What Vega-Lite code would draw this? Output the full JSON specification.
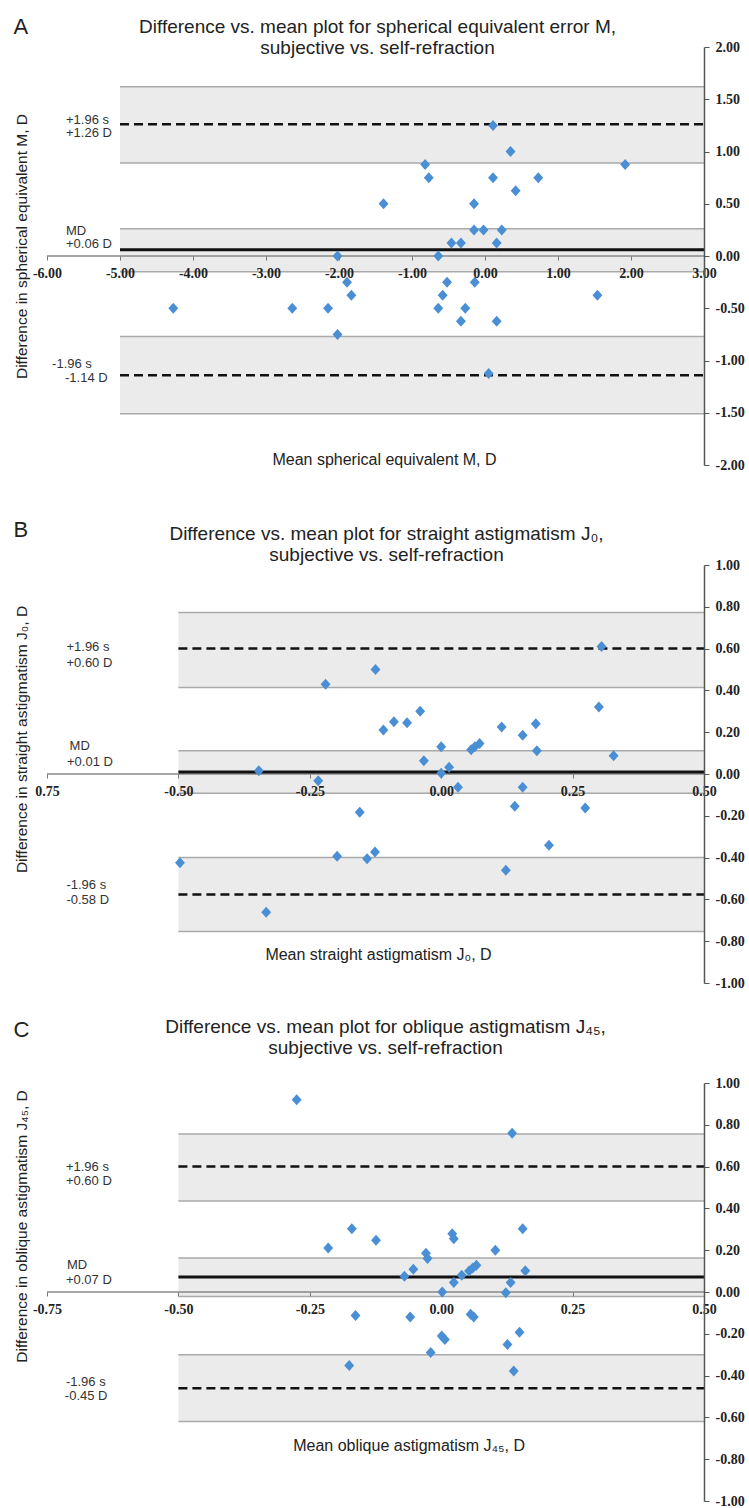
{
"$schema": "https://vega.github.io/schema/vega-lite/v6.json",
"padding": {"left": 13, "top": 15, "right": 0, "bottom": 0},
"bounds": "flush",
"spacing": 100,
"config": {"view": {"stroke": null}, "axis": {"grid": false}, "font": "Liberation Sans"},
"datasets": {
"pts_A": [{"x":0.11,"y":1.25},{"x":0.35,"y":1.0},{"x":-0.82,"y":0.875},{"x":-0.77,"y":0.75},{"x":0.11,"y":0.75},{"x":0.73,"y":0.75},{"x":1.92,"y":0.875},{"x":0.42,"y":0.625},{"x":-1.39,"y":0.5},{"x":-0.15,"y":0.5},{"x":-0.15,"y":0.25},{"x":-0.02,"y":0.25},{"x":0.23,"y":0.25},{"x":-0.46,"y":0.125},{"x":-0.33,"y":0.125},{"x":0.16,"y":0.125},{"x":-2.02,"y":0},{"x":-0.64,"y":0},{"x":-1.89,"y":-0.25},{"x":-0.52,"y":-0.25},{"x":-0.14,"y":-0.25},{"x":-1.83,"y":-0.375},{"x":-0.58,"y":-0.375},{"x":1.54,"y":-0.375},{"x":-4.27,"y":-0.5},{"x":-2.64,"y":-0.5},{"x":-2.15,"y":-0.5},{"x":-0.64,"y":-0.5},{"x":-0.27,"y":-0.5},{"x":-0.33,"y":-0.625},{"x":0.16,"y":-0.625},{"x":-2.02,"y":-0.75},{"x":0.05,"y":-1.125}],
"bands_A": [{"x":-5,"x2":3,"y":0.89,"y2":1.62},{"x":-5,"x2":3,"y":-0.15,"y2":0.26},{"x":-5,"x2":3,"y":-1.51,"y2":-0.77}],
"zero_A": [{"x":-6,"x2":3,"y":0}],
"md_A": [{"x":-5,"x2":3,"y":0.06}],
"loa_A": [{"x":-5,"x2":3,"y":1.26},{"x":-5,"x2":3,"y":-1.14}],
"notes_A": [{"x":-5.74,"y":1.305,"t":"+1.96 s"},{"x":-5.74,"y":1.176,"t":"+1.26 D"},{"x":-5.74,"y":0.238,"t":"MD"},{"x":-5.74,"y":0.114,"t":"+0.06 D"},{"x":-5.93,"y":-1.029,"t":"-1.96 s"},{"x":-5.753,"y":-1.171,"t":"-1.14 D"}],
"pts_B": [{"x":0.305,"y":0.61},{"x":-0.125,"y":0.5},{"x":-0.22,"y":0.43},{"x":-0.04,"y":0.3},{"x":-0.09,"y":0.25},{"x":-0.065,"y":0.245},{"x":-0.11,"y":0.21},{"x":0.115,"y":0.225},{"x":0.18,"y":0.24},{"x":0.155,"y":0.185},{"x":0.3,"y":0.32},{"x":0.0,"y":0.13},{"x":0.073,"y":0.146},{"x":0.064,"y":0.13},{"x":0.057,"y":0.116},{"x":0.182,"y":0.111},{"x":0.328,"y":0.087},{"x":-0.033,"y":0.063},{"x":0.015,"y":0.032},{"x":-0.347,"y":0.016},{"x":0.0,"y":0.003},{"x":-0.234,"y":-0.032},{"x":0.032,"y":-0.063},{"x":0.155,"y":-0.063},{"x":-0.155,"y":-0.183},{"x":0.14,"y":-0.154},{"x":0.274,"y":-0.163},{"x":0.205,"y":-0.341},{"x":-0.198,"y":-0.394},{"x":-0.141,"y":-0.405},{"x":-0.126,"y":-0.373},{"x":-0.497,"y":-0.425},{"x":0.123,"y":-0.46},{"x":-0.333,"y":-0.662}],
"bands_B": [{"x":-0.5,"x2":0.5,"y":0.414,"y2":0.773},{"x":-0.5,"x2":0.5,"y":-0.092,"y2":0.111},{"x":-0.5,"x2":0.5,"y":-0.754,"y2":-0.4}],
"zero_B": [{"x":-0.75,"x2":0.5,"y":0}],
"md_B": [{"x":-0.5,"x2":0.5,"y":0.01}],
"loa_B": [{"x":-0.5,"x2":0.5,"y":0.6},{"x":-0.5,"x2":0.5,"y":-0.577}],
"notes_B": [{"x":-0.713,"y":0.61,"t":"+1.96 s"},{"x":-0.713,"y":0.53,"t":"+0.60 D"},{"x":-0.707,"y":0.133,"t":"MD"},{"x":-0.712,"y":0.059,"t":"+0.01 D"},{"x":-0.713,"y":-0.529,"t":"-1.96 s"},{"x":-0.713,"y":-0.605,"t":"-0.58 D"}],
"pts_C": [{"x":-0.275,"y":0.92},{"x":0.135,"y":0.76},{"x":-0.17,"y":0.303},{"x":0.155,"y":0.303},{"x":-0.124,"y":0.248},{"x":0.021,"y":0.279},{"x":0.024,"y":0.255},{"x":-0.215,"y":0.21},{"x":0.103,"y":0.2},{"x":-0.029,"y":0.185},{"x":-0.026,"y":0.16},{"x":-0.053,"y":0.109},{"x":-0.07,"y":0.075},{"x":0.039,"y":0.08},{"x":0.053,"y":0.1},{"x":0.06,"y":0.115},{"x":0.067,"y":0.128},{"x":0.024,"y":0.045},{"x":0.002,"y":0.0},{"x":0.132,"y":0.045},{"x":0.16,"y":0.102},{"x":0.123,"y":-0.003},{"x":-0.163,"y":-0.112},{"x":-0.059,"y":-0.12},{"x":0.056,"y":-0.107},{"x":0.062,"y":-0.12},{"x":0.001,"y":-0.211},{"x":0.007,"y":-0.227},{"x":0.149,"y":-0.192},{"x":0.126,"y":-0.251},{"x":-0.02,"y":-0.29},{"x":-0.175,"y":-0.352},{"x":0.138,"y":-0.378}],
"bands_C": [{"x":-0.5,"x2":0.5,"y":0.435,"y2":0.756},{"x":-0.5,"x2":0.5,"y":-0.022,"y2":0.163},{"x":-0.5,"x2":0.5,"y":-0.62,"y2":-0.3}],
"zero_C": [{"x":-0.75,"x2":0.5,"y":0}],
"md_C": [{"x":-0.5,"x2":0.5,"y":0.072}],
"loa_C": [{"x":-0.5,"x2":0.5,"y":0.6},{"x":-0.5,"x2":0.5,"y":-0.461}],
"notes_C": [{"x":-0.714,"y":0.6,"t":"+1.96 s"},{"x":-0.714,"y":0.529,"t":"+0.60 D"},{"x":-0.712,"y":0.131,"t":"MD"},{"x":-0.714,"y":0.056,"t":"+0.07 D"},{"x":-0.714,"y":-0.432,"t":"-1.96 s"},{"x":-0.716,"y":-0.499,"t":"-0.45 D"}]
},
"vconcat": [
{
"width": 657, "height": 418,
"resolve": {"axis": {"x": "independent", "y": "independent"}},
"layer": [
{"data": {"name": "bands_A"}, "mark": {"type": "rect", "color": "#ebebeb"},
 "encoding": {
  "x": {"field": "x", "type": "quantitative", "scale": {"domain": [-6, 3], "nice": false, "zero": false},
   "axis": {"orient": "top", "labels": false, "ticks": false, "domain": false, "title": ["Difference vs. mean plot for spherical equivalent error M,", "subjective vs. self-refraction"], "titleFont": "Liberation Sans", "titleFontSize": 19, "titleFontWeight": "normal", "titleColor": "#222", "titleX": 330, "titleY": -15, "titleAlign": "center", "titleBaseline": "alphabetic", "titleLineHeight": 21}},
  "x2": {"field": "x2"},
  "y": {"field": "y", "type": "quantitative", "scale": {"domain": [-2, 2], "nice": false, "zero": false},
   "axis": {"orient": "left", "labels": false, "ticks": false, "domain": false, "title": "Difference in spherical equivalent M, D", "titleFont": "Liberation Sans", "titleFontSize": 15.5, "titleFontWeight": "normal", "titleColor": "#222", "titleAngle": 270, "titleX": -26, "titleY": 199, "titleAlign": "center", "titleBaseline": "middle"}},
  "y2": {"field": "y2"}}},
{"data": {"name": "bands_A"}, "mark": {"type": "rule", "color": "#aaaaaa", "strokeWidth": 1.5},
 "encoding": {
  "x": {"field": "x", "type": "quantitative", "scale": {"domain": [-6, 3], "nice": false, "zero": false},
   "axis": {"orient": "top", "labels": false, "ticks": false, "domain": false, "title": "A", "titleFont": "Liberation Sans", "titleFontSize": 22, "titleFontWeight": "normal", "titleColor": "#222", "titleX": -34, "titleY": -14, "titleAlign": "left", "titleBaseline": "alphabetic"}},
  "x2": {"field": "x2"},
  "y": {"field": "y", "type": "quantitative", "scale": {"domain": [-2, 2], "nice": false, "zero": false}, "axis": null}}},
{"data": {"name": "bands_A"}, "mark": {"type": "rule", "color": "#aaaaaa", "strokeWidth": 1.5},
 "encoding": {
  "x": {"field": "x", "type": "quantitative", "scale": {"domain": [-6, 3], "nice": false, "zero": false}, "axis": null},
  "x2": {"field": "x2"},
  "y": {"field": "y2", "type": "quantitative", "scale": {"domain": [-2, 2], "nice": false, "zero": false}, "axis": null}}},
{"data": {"name": "zero_A"}, "mark": {"type": "rule", "color": "#888888", "strokeWidth": 1.3},
 "encoding": {
  "x": {"field": "x", "type": "quantitative", "scale": {"domain": [-6, 3], "nice": false, "zero": false}, "axis": null},
  "x2": {"field": "x2"},
  "y": {"field": "y", "type": "quantitative", "scale": {"domain": [-2, 2], "nice": false, "zero": false}, "axis": null}}},
{"data": {"name": "md_A"}, "mark": {"type": "rule", "color": "#111111", "strokeWidth": 3},
 "encoding": {
  "x": {"field": "x", "type": "quantitative", "scale": {"domain": [-6, 3], "nice": false, "zero": false}, "axis": null},
  "x2": {"field": "x2"},
  "y": {"field": "y", "type": "quantitative", "scale": {"domain": [-2, 2], "nice": false, "zero": false}, "axis": null}}},
{"data": {"name": "loa_A"}, "mark": {"type": "rule", "color": "#111111", "strokeWidth": 2.5, "strokeDash": [9, 5]},
 "encoding": {
  "x": {"field": "x", "type": "quantitative", "scale": {"domain": [-6, 3], "nice": false, "zero": false}, "axis": null},
  "x2": {"field": "x2"},
  "y": {"field": "y", "type": "quantitative", "scale": {"domain": [-2, 2], "nice": false, "zero": false}, "axis": null}}},
{"data": {"name": "notes_A"}, "mark": {"type": "text", "align": "left", "baseline": "middle", "font": "Liberation Sans", "fontSize": 13, "color": "#333333"},
 "encoding": {
  "x": {"field": "x", "type": "quantitative", "scale": {"domain": [-6, 3], "nice": false, "zero": false}, "axis": null},
  "y": {"field": "y", "type": "quantitative", "scale": {"domain": [-2, 2], "nice": false, "zero": false}, "axis": null},
  "text": {"field": "t"}}},
{"data": {"name": "pts_A"}, "mark": {"type": "point", "shape": "M-0.9,0L0,-1L0.9,0L0,1Z", "filled": true, "size": 121, "color": "#4a8fd4", "opacity": 1},
 "encoding": {
  "x": {"field": "x", "type": "quantitative", "scale": {"domain": [-6, 3], "nice": false, "zero": false},
   "axis": {"orient": "bottom", "offset": -209, "values": [-6, -5, -4, -3, -2, -1, 0, 1, 2, 3], "labelExpr": "replace(format(datum.value,'.2f'),'\u2212','-')", "labelFont": "Liberation Serif", "labelFontWeight": "bold", "labelFontSize": 14, "labelColor": "#222", "labelPadding": 6, "tickSize": 4, "tickColor": "#777", "domain": false, "zindex": 1, "labelFlush": false, "labelOverlap": false, "title": "Mean spherical equivalent M, D", "titleFont": "Liberation Sans", "titleFontSize": 16, "titleFontWeight": "normal", "titleColor": "#222", "titleX": 337, "titleY": 203, "titleAlign": "center", "titleBaseline": "middle"}},
  "y": {"field": "y", "type": "quantitative", "scale": {"domain": [-2, 2], "nice": false, "zero": false},
   "axis": {"orient": "right", "values": [-2, -1.5, -1, -0.5, 0, 0.5, 1, 1.5, 2], "labelExpr": "replace(format(datum.value,'.2f'),'\u2212','-')", "labelFont": "Liberation Serif", "labelFontWeight": "bold", "labelFontSize": 14, "labelColor": "#222", "labelPadding": 6, "tickSize": 5, "tickColor": "#555", "domainColor": "#555", "domainWidth": 1.5, "zindex": 1, "labelFlush": false, "labelOverlap": false, "title": null}}}}
]
},
{
"width": 657, "height": 418,
"resolve": {"axis": {"x": "independent", "y": "independent"}},
"layer": [
{"data": {"name": "bands_B"}, "mark": {"type": "rect", "color": "#ebebeb"},
 "encoding": {
  "x": {"field": "x", "type": "quantitative", "scale": {"domain": [-0.75, 0.5], "nice": false, "zero": false},
   "axis": {"orient": "top", "labels": false, "ticks": false, "domain": false, "title": ["Difference vs. mean plot for straight astigmatism J\u2080,", "subjective vs. self-refraction"], "titleFont": "Liberation Sans", "titleFontSize": 19, "titleFontWeight": "normal", "titleColor": "#222", "titleX": 339, "titleY": -26, "titleAlign": "center", "titleBaseline": "alphabetic", "titleLineHeight": 21}},
  "x2": {"field": "x2"},
  "y": {"field": "y", "type": "quantitative", "scale": {"domain": [-1, 1], "nice": false, "zero": false},
   "axis": {"orient": "left", "labels": false, "ticks": false, "domain": false, "title": "Difference in straight astigmatism J\u2080, D", "titleFont": "Liberation Sans", "titleFontSize": 15.5, "titleFontWeight": "normal", "titleColor": "#222", "titleAngle": 270, "titleX": -26, "titleY": 174, "titleAlign": "center", "titleBaseline": "middle"}},
  "y2": {"field": "y2"}}},
{"data": {"name": "bands_B"}, "mark": {"type": "rule", "color": "#aaaaaa", "strokeWidth": 1.5},
 "encoding": {
  "x": {"field": "x", "type": "quantitative", "scale": {"domain": [-0.75, 0.5], "nice": false, "zero": false},
   "axis": {"orient": "top", "labels": false, "ticks": false, "domain": false, "title": "B", "titleFont": "Liberation Sans", "titleFontSize": 22, "titleFontWeight": "normal", "titleColor": "#222", "titleX": -34, "titleY": -29, "titleAlign": "left", "titleBaseline": "alphabetic"}},
  "x2": {"field": "x2"},
  "y": {"field": "y", "type": "quantitative", "scale": {"domain": [-1, 1], "nice": false, "zero": false}, "axis": null}}},
{"data": {"name": "bands_B"}, "mark": {"type": "rule", "color": "#aaaaaa", "strokeWidth": 1.5},
 "encoding": {
  "x": {"field": "x", "type": "quantitative", "scale": {"domain": [-0.75, 0.5], "nice": false, "zero": false}, "axis": null},
  "x2": {"field": "x2"},
  "y": {"field": "y2", "type": "quantitative", "scale": {"domain": [-1, 1], "nice": false, "zero": false}, "axis": null}}},
{"data": {"name": "zero_B"}, "mark": {"type": "rule", "color": "#888888", "strokeWidth": 1.3},
 "encoding": {
  "x": {"field": "x", "type": "quantitative", "scale": {"domain": [-0.75, 0.5], "nice": false, "zero": false}, "axis": null},
  "x2": {"field": "x2"},
  "y": {"field": "y", "type": "quantitative", "scale": {"domain": [-1, 1], "nice": false, "zero": false}, "axis": null}}},
{"data": {"name": "md_B"}, "mark": {"type": "rule", "color": "#111111", "strokeWidth": 3},
 "encoding": {
  "x": {"field": "x", "type": "quantitative", "scale": {"domain": [-0.75, 0.5], "nice": false, "zero": false}, "axis": null},
  "x2": {"field": "x2"},
  "y": {"field": "y", "type": "quantitative", "scale": {"domain": [-1, 1], "nice": false, "zero": false}, "axis": null}}},
{"data": {"name": "loa_B"}, "mark": {"type": "rule", "color": "#111111", "strokeWidth": 2.5, "strokeDash": [9, 5]},
 "encoding": {
  "x": {"field": "x", "type": "quantitative", "scale": {"domain": [-0.75, 0.5], "nice": false, "zero": false}, "axis": null},
  "x2": {"field": "x2"},
  "y": {"field": "y", "type": "quantitative", "scale": {"domain": [-1, 1], "nice": false, "zero": false}, "axis": null}}},
{"data": {"name": "notes_B"}, "mark": {"type": "text", "align": "left", "baseline": "middle", "font": "Liberation Sans", "fontSize": 13, "color": "#333333"},
 "encoding": {
  "x": {"field": "x", "type": "quantitative", "scale": {"domain": [-0.75, 0.5], "nice": false, "zero": false}, "axis": null},
  "y": {"field": "y", "type": "quantitative", "scale": {"domain": [-1, 1], "nice": false, "zero": false}, "axis": null},
  "text": {"field": "t"}}},
{"data": {"name": "pts_B"}, "mark": {"type": "point", "shape": "M-0.9,0L0,-1L0.9,0L0,1Z", "filled": true, "size": 121, "color": "#4a8fd4", "opacity": 1},
 "encoding": {
  "x": {"field": "x", "type": "quantitative", "scale": {"domain": [-0.75, 0.5], "nice": false, "zero": false},
   "axis": {"orient": "bottom", "offset": -209, "values": [-0.75, -0.5, -0.25, 0, 0.25, 0.5], "labelExpr": "datum.value == -0.75 ? '0.75' : replace(format(datum.value,'.2f'),'\u2212','-')", "labelFont": "Liberation Serif", "labelFontWeight": "bold", "labelFontSize": 14, "labelColor": "#222", "labelPadding": 6, "tickSize": 4, "tickColor": "#777", "domain": false, "zindex": 1, "labelFlush": false, "labelOverlap": false, "title": "Mean straight astigmatism J\u2080, D", "titleFont": "Liberation Sans", "titleFontSize": 16, "titleFontWeight": "normal", "titleColor": "#222", "titleX": 331, "titleY": 180, "titleAlign": "center", "titleBaseline": "middle"}},
  "y": {"field": "y", "type": "quantitative", "scale": {"domain": [-1, 1], "nice": false, "zero": false},
   "axis": {"orient": "right", "values": [-1, -0.8, -0.6, -0.4, -0.2, 0, 0.2, 0.4, 0.6, 0.8, 1], "labelExpr": "replace(format(datum.value,'.2f'),'\u2212','-')", "labelFont": "Liberation Serif", "labelFontWeight": "bold", "labelFontSize": 14, "labelColor": "#222", "labelPadding": 6, "tickSize": 5, "tickColor": "#555", "domainColor": "#555", "domainWidth": 1.5, "zindex": 1, "labelFlush": false, "labelOverlap": false, "title": null}}}}
]
},
{
"width": 657, "height": 418,
"resolve": {"axis": {"x": "independent", "y": "independent"}},
"layer": [
{"data": {"name": "bands_C"}, "mark": {"type": "rect", "color": "#ebebeb"},
 "encoding": {
  "x": {"field": "x", "type": "quantitative", "scale": {"domain": [-0.75, 0.5], "nice": false, "zero": false},
   "axis": {"orient": "top", "labels": false, "ticks": false, "domain": false, "title": ["Difference vs. mean plot for oblique astigmatism J\u2084\u2085,", "subjective vs. self-refraction"], "titleFont": "Liberation Sans", "titleFontSize": 19, "titleFontWeight": "normal", "titleColor": "#222", "titleX": 338, "titleY": -51, "titleAlign": "center", "titleBaseline": "alphabetic", "titleLineHeight": 21}},
  "x2": {"field": "x2"},
  "y": {"field": "y", "type": "quantitative", "scale": {"domain": [-1, 1], "nice": false, "zero": false},
   "axis": {"orient": "left", "labels": false, "ticks": false, "domain": false, "title": "Difference in oblique astigmatism J\u2084\u2085, D", "titleFont": "Liberation Sans", "titleFontSize": 15.5, "titleFontWeight": "normal", "titleColor": "#222", "titleAngle": 270, "titleX": -26, "titleY": 143, "titleAlign": "center", "titleBaseline": "middle"}},
  "y2": {"field": "y2"}}},
{"data": {"name": "bands_C"}, "mark": {"type": "rule", "color": "#aaaaaa", "strokeWidth": 1.5},
 "encoding": {
  "x": {"field": "x", "type": "quantitative", "scale": {"domain": [-0.75, 0.5], "nice": false, "zero": false},
   "axis": {"orient": "top", "labels": false, "ticks": false, "domain": false, "title": "C", "titleFont": "Liberation Sans", "titleFontSize": 22, "titleFontWeight": "normal", "titleColor": "#222", "titleX": -34, "titleY": -47, "titleAlign": "left", "titleBaseline": "alphabetic"}},
  "x2": {"field": "x2"},
  "y": {"field": "y", "type": "quantitative", "scale": {"domain": [-1, 1], "nice": false, "zero": false}, "axis": null}}},
{"data": {"name": "bands_C"}, "mark": {"type": "rule", "color": "#aaaaaa", "strokeWidth": 1.5},
 "encoding": {
  "x": {"field": "x", "type": "quantitative", "scale": {"domain": [-0.75, 0.5], "nice": false, "zero": false}, "axis": null},
  "x2": {"field": "x2"},
  "y": {"field": "y2", "type": "quantitative", "scale": {"domain": [-1, 1], "nice": false, "zero": false}, "axis": null}}},
{"data": {"name": "zero_C"}, "mark": {"type": "rule", "color": "#888888", "strokeWidth": 1.3},
 "encoding": {
  "x": {"field": "x", "type": "quantitative", "scale": {"domain": [-0.75, 0.5], "nice": false, "zero": false}, "axis": null},
  "x2": {"field": "x2"},
  "y": {"field": "y", "type": "quantitative", "scale": {"domain": [-1, 1], "nice": false, "zero": false}, "axis": null}}},
{"data": {"name": "md_C"}, "mark": {"type": "rule", "color": "#111111", "strokeWidth": 3},
 "encoding": {
  "x": {"field": "x", "type": "quantitative", "scale": {"domain": [-0.75, 0.5], "nice": false, "zero": false}, "axis": null},
  "x2": {"field": "x2"},
  "y": {"field": "y", "type": "quantitative", "scale": {"domain": [-1, 1], "nice": false, "zero": false}, "axis": null}}},
{"data": {"name": "loa_C"}, "mark": {"type": "rule", "color": "#111111", "strokeWidth": 2.5, "strokeDash": [9, 5]},
 "encoding": {
  "x": {"field": "x", "type": "quantitative", "scale": {"domain": [-0.75, 0.5], "nice": false, "zero": false}, "axis": null},
  "x2": {"field": "x2"},
  "y": {"field": "y", "type": "quantitative", "scale": {"domain": [-1, 1], "nice": false, "zero": false}, "axis": null}}},
{"data": {"name": "notes_C"}, "mark": {"type": "text", "align": "left", "baseline": "middle", "font": "Liberation Sans", "fontSize": 13, "color": "#333333"},
 "encoding": {
  "x": {"field": "x", "type": "quantitative", "scale": {"domain": [-0.75, 0.5], "nice": false, "zero": false}, "axis": null},
  "y": {"field": "y", "type": "quantitative", "scale": {"domain": [-1, 1], "nice": false, "zero": false}, "axis": null},
  "text": {"field": "t"}}},
{"data": {"name": "pts_C"}, "mark": {"type": "point", "shape": "M-0.9,0L0,-1L0.9,0L0,1Z", "filled": true, "size": 121, "color": "#4a8fd4", "opacity": 1},
 "encoding": {
  "x": {"field": "x", "type": "quantitative", "scale": {"domain": [-0.75, 0.5], "nice": false, "zero": false},
   "axis": {"orient": "bottom", "offset": -209, "values": [-0.75, -0.5, -0.25, 0, 0.25, 0.5], "labelExpr": "replace(format(datum.value,'.2f'),'\u2212','-')", "labelFont": "Liberation Serif", "labelFontWeight": "bold", "labelFontSize": 14, "labelColor": "#222", "labelPadding": 6, "tickSize": 4, "tickColor": "#777", "domain": false, "zindex": 1, "labelFlush": false, "labelOverlap": false, "title": "Mean oblique astigmatism J\u2084\u2085, D", "titleFont": "Liberation Sans", "titleFontSize": 16, "titleFontWeight": "normal", "titleColor": "#222", "titleX": 361.6, "titleY": 153, "titleAlign": "center", "titleBaseline": "middle"}},
  "y": {"field": "y", "type": "quantitative", "scale": {"domain": [-1, 1], "nice": false, "zero": false},
   "axis": {"orient": "right", "values": [-1, -0.8, -0.6, -0.4, -0.2, 0, 0.2, 0.4, 0.6, 0.8, 1], "labelExpr": "replace(format(datum.value,'.2f'),'\u2212','-')", "labelFont": "Liberation Serif", "labelFontWeight": "bold", "labelFontSize": 14, "labelColor": "#222", "labelPadding": 6, "tickSize": 5, "tickColor": "#555", "domainColor": "#555", "domainWidth": 1.5, "zindex": 1, "labelFlush": false, "labelOverlap": false, "title": null}}}}
]
}
]
}
